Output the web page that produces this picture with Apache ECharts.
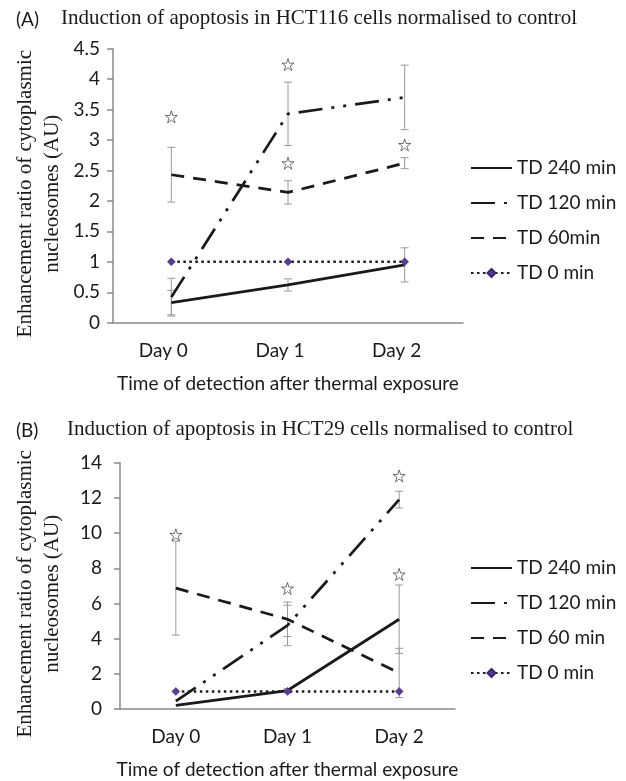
<!DOCTYPE html>
<html>
<head>
<meta charset="utf-8">
<script src="https://cdn.jsdelivr.net/npm/echarts@6/dist/echarts.min.js"></script>
<style>
  html, body { margin: 0; padding: 0; background: #fff; }
  #chart { width: 626px; height: 781px; }
</style>
</head>
<body>
<div id="chart"></div>
<script>
// categories
const days = ['Day 0', 'Day 1', 'Day 2'];

// panel A - HCT116
const a240 = [0.33, 0.62, 0.95];
const a120 = [0.42, 3.43, 3.70];
const a60 = [2.43, 2.14, 2.62];
const a0 = [1, 1, 1];
// error half widths
const a240Err = [0.20, 0.10, 0.28];
const a120Err = [0.31, 0.52, 0.53];
const a60Err = [0.45, 0.19, 0.09];
// significance stars [day index, height]
const aStars = [[0, 3.38], [1, 4.24], [1, 2.62], [2, 4.55], [2, 2.92]];

// panel B - HCT29
const b240 = [0.20, 1.05, 5.10];
const b120 = [0.45, 4.75, 11.9];
const b60 = [6.87, 5.10, 2.05];
const b0 = [1, 1, 1];
const b240Err = [0, 0.12, 1.95];
const b120Err = [0, 1.15, 0.48];
const b60Err = [2.67, 0.98, 1.40];
const bStars = [[0, 9.9], [1, 6.85], [2, 13.25], [2, 7.65]];

const sans = 'Lato';
const serif = '"Liberation Serif", "Times New Roman", serif';
const ink = '#1a1a1a';
const axisGrey = '#8a8a8a';

const starPath = 'path://M50,2 L61.2,36.5 L97.5,36.5 L68.2,57.8 L79.4,92.3 L50,71 L20.6,92.3 L31.8,57.8 L2.5,36.5 L38.8,36.5 Z';

// [index, low, high] for every bar with a non-zero error
function errorRows(values, errs) {
    let rows = [];
    values.forEach(function (v, i) {
        if (errs[i] > 0) rows.push([i, v - errs[i], v + errs[i]]);
    });
    return rows;
}

function errorBar(params, api) {
    const x = api.value(0);
    const lo = api.coord([x, api.value(1)]);
    const hi = api.coord([x, api.value(2)]);
    const w = 4;
    const style = { stroke: '#9a9a9a', lineWidth: 1 };
    return {
        type: 'group',
        children: [
            { type: 'line', shape: { x1: lo[0], y1: lo[1], x2: hi[0], y2: hi[1] }, style: style },
            { type: 'line', shape: { x1: lo[0] - w, y1: lo[1], x2: lo[0] + w, y2: lo[1] }, style: style },
            { type: 'line', shape: { x1: hi[0] - w, y1: hi[1], x2: hi[0] + w, y2: hi[1] }, style: style }
        ]
    };
}

const lineKinds = {
    solid: { type: 'solid', width: 2.75 },
    dashDotDot: { type: [24, 9, 3, 9, 3, 9], width: 2.75 },
    dash: { type: [13, 9], width: 2.75 },
    dot: { type: [2.5, 3.5], width: 2.5 }
};

function lineSeries(name, data, kind, axis) {
    let s = {
        name: name,
        type: 'line',
        xAxisIndex: axis,
        yAxisIndex: axis,
        data: data,
        symbol: 'none',
        z: 3,
        lineStyle: { color: ink, type: lineKinds[kind].type, width: lineKinds[kind].width, cap: 'butt' },
        itemStyle: { color: ink }
    };
    if (kind === 'dot') {
        s.symbol = 'diamond';
        s.symbolSize = 8;
        s.itemStyle = { color: '#5b3d8f', borderColor: '#3a2466', borderWidth: 0.5 };
        s.z = 4;
    }
    return s;
}

function starSeries(data, axis) {
    return {
        type: 'scatter',
        xAxisIndex: axis,
        yAxisIndex: axis,
        data: data,
        symbol: starPath,
        symbolSize: 12,
        z: 5,
        itemStyle: { color: '#fff', borderColor: '#222', borderWidth: 0.8 }
    };
}

function errorSeries(rows, axis) {
    return {
        type: 'custom',
        xAxisIndex: axis,
        yAxisIndex: axis,
        renderItem: errorBar,
        encode: { x: 0, y: [1, 2] },
        data: rows,
        z: 2
    };
}

function catAxis(grid, labelPad, margin, nameGap) {
    return {
        type: 'category',
        gridIndex: grid,
        data: days,
        boundaryGap: true,
        axisLine: { lineStyle: { color: axisGrey, width: 1.5 } },
        axisTick: { length: 6, lineStyle: { color: axisGrey, width: 1.5 } },
        axisLabel: { color: ink, fontFamily: sans, fontSize: 19, margin: margin, padding: labelPad },
        name: 'Time of detection after thermal exposure',
        nameLocation: 'middle',
        nameGap: nameGap,
        nameMoveOverlap: false,
        nameTextStyle: { color: ink, fontFamily: sans, fontSize: 19 }
    };
}

function valAxis(grid, max, interval, margin, nameGap) {
    return {
        type: 'value',
        gridIndex: grid,
        min: 0,
        max: max,
        interval: interval,
        splitLine: { show: false },
        axisLine: { show: true, lineStyle: { color: axisGrey, width: 1.5 } },
        axisTick: { show: true, length: 6, lineStyle: { color: axisGrey, width: 1.5 } },
        axisLabel: { color: ink, fontFamily: sans, fontSize: 19, margin: margin },
        name: 'Enhancement ratio of cytoplasmic\nnucleosomes (AU)',
        nameLocation: 'middle',
        nameGap: nameGap,
        nameMoveOverlap: false,
        nameTextStyle: { color: ink, fontFamily: serif, fontSize: 21, lineHeight: 27, padding: [0, 16, 0, 0] }
    };
}

// plain line icons: hide the marker that ECharts puts in the middle
function legendFor(names, top) {
    return {
        orient: 'vertical',
        left: 470,
        top: top,
        padding: 0,
        itemWidth: 41,
        itemHeight: 10,
        itemGap: 15,
        data: names.map(function (n) {
            return n === 'TD 0 min' ? { name: n } : { name: n, itemStyle: { color: 'rgba(0,0,0,0)', opacity: 0, borderWidth: 0 } };
        }),
        selectedMode: false,
        textStyle: { color: ink, fontFamily: sans, fontSize: 19, lineHeight: 20 }
    };
}

const chart = echarts.init(document.getElementById('chart'));

const option = {
    animation: false,
    backgroundColor: '#fff',
    title: [
        { text: '(A)', left: 11, top: 5, textStyle: { color: ink, fontFamily: sans, fontSize: 19, fontWeight: 'normal' } },
        { text: 'Induction of apoptosis in HCT116 cells normalised to control', left: 56, top: 3,
          textStyle: { color: ink, fontFamily: serif, fontSize: 21, fontWeight: 'normal' } },
        { text: '(B)', left: 11, top: 416, textStyle: { color: ink, fontFamily: sans, fontSize: 19, fontWeight: 'normal' } },
        { text: 'Induction of apoptosis in HCT29 cells normalised to control', left: 62, top: 414,
          textStyle: { color: ink, fontFamily: serif, fontSize: 21, fontWeight: 'normal' } }
    ],
    legend: [
        legendFor(['TD 240 min', 'TD 120 min', 'TD 60min', 'TD 0 min'], 158),
        legendFor(['TD 240 min', 'TD 120 min', 'TD 60 min', 'TD 0 min'], 558)
    ],
    grid: [
        { left: 113, top: 48.7, width: 350, height: 274 },
        { left: 120, top: 462.7, width: 335, height: 246.3 }
    ],
    xAxis: [
        catAxis(0, [0, 16, 0, 0], 19, 52),
        catAxis(1, 0, 18, 51)
    ],
    yAxis: [
        valAxis(0, 4.5, 0.5, 13, 47.5),
        valAxis(1, 14, 2, 18, 54.5)
    ],
    series: [
        errorSeries([].concat(errorRows(a240, a240Err), errorRows(a120, a120Err), errorRows(a60, a60Err)), 0),
        lineSeries('TD 240 min', a240, 'solid', 0),
        lineSeries('TD 120 min', a120, 'dashDotDot', 0),
        lineSeries('TD 60min', a60, 'dash', 0),
        lineSeries('TD 0 min', a0, 'dot', 0),
        starSeries(aStars, 0),

        errorSeries([].concat(errorRows(b240, b240Err), errorRows(b120, b120Err), errorRows(b60, b60Err)), 1),
        lineSeries('TD 240 min', b240, 'solid', 1),
        lineSeries('TD 120 min', b120, 'dashDotDot', 1),
        lineSeries('TD 60 min', b60, 'dash', 1),
        lineSeries('TD 0 min', b0, 'dot', 1),
        starSeries(bStars, 1)
    ]
};

chart.setOption(option);
</script>
</body>
</html>
